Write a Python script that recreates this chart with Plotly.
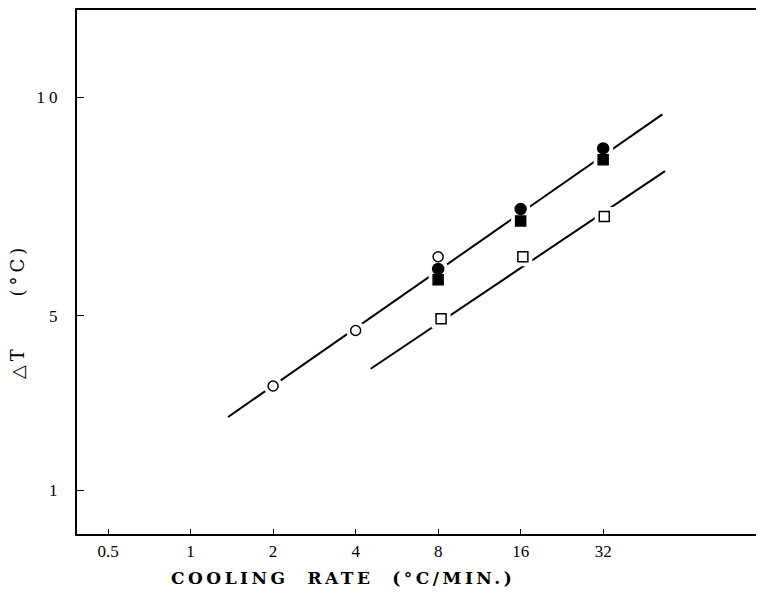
import math
import plotly.graph_objects as go

# ---- data ----
rate_open_circle = [2, 4, 8]
dT_open_circle = [3.39, 4.66, 6.35]

rate_filled_circle = [8, 16, 32]
dT_filled_circle = [6.07, 7.44, 8.83]

rate_filled_square = [8, 16, 32]
dT_filled_square = [5.82, 7.17, 8.57]

rate_open_square = [8.2, 16.3, 32.3]
dT_open_square = [4.93, 6.35, 7.27]

fit_upper_rate = [1.37, 52.6]
fit_upper_dT = [2.68, 9.61]
fit_lower_rate = [4.54, 53.8]
fit_lower_dT = [3.785, 8.31]

x_tick_vals = [0.5, 1, 2, 4, 8, 16, 32]
x_tick_text = ["0.5", "1", "2", "4", "8", "16", "32"]
y_tick_vals = [1, 5, 10]
y_tick_text = ["1", "5", "10"]

# page body adds an 8px offset; target plot box: x 77..764, y 10..534
OFF = 8
W, H = 756, 582
ML, MR, MT = 77 - OFF, 0, 10 - OFF
MB = OFF + H - 534

fig = go.Figure()

for xs, ys in [(fit_upper_rate, fit_upper_dT), (fit_lower_rate, fit_lower_dT)]:
    fig.add_trace(go.Scatter(x=xs, y=ys, mode="lines",
                             line=dict(color="black", width=2),
                             showlegend=False, hoverinfo="skip"))

series = [
    (rate_open_circle, dT_open_circle, "circle", 10, "white"),
    (rate_filled_circle, dT_filled_circle, "circle", 11, "black"),
    (rate_filled_square, dT_filled_square, "square", 10, "black"),
    (rate_open_square, dT_open_square, "square", 10, "white"),
]

for xs, ys, sym, sz, fill in series:
    fig.add_trace(go.Scatter(x=xs, y=ys, mode="markers",
                             marker=dict(symbol=sym, size=sz + 9, color="white",
                                         line=dict(width=0)),
                             showlegend=False, hoverinfo="skip"))

for xs, ys, sym, sz, fill in series:
    fig.add_trace(go.Scatter(x=xs, y=ys, mode="markers",
                             marker=dict(symbol=sym, size=sz, color=fill,
                                         line=dict(color="black", width=1.5)),
                             showlegend=False))

serif = "Liberation Serif, Times New Roman, serif"
fig.update_layout(
    width=W, height=H,
    margin=dict(l=ML, r=MR, t=MT, b=MB),
    plot_bgcolor="white", paper_bgcolor="white",
    font=dict(family=serif, size=17, color="black"),
    xaxis=dict(type="log", range=[math.log10(0.385), math.log10(123.6)],
               tickvals=x_tick_vals, ticktext=x_tick_text,
               showgrid=False, zeroline=False,
               showline=True, linecolor="black", linewidth=2, mirror=True,
               ticks="inside", ticklen=5, tickwidth=1, tickcolor="black",
               ticklabelstandoff=1,
               tickfont=dict(family=serif, size=17)),
    yaxis=dict(range=[0, 12], tickvals=y_tick_vals,
               ticktext=["<span style='letter-spacing:4px'>%s</span>" % t for t in y_tick_text],
               showgrid=False, zeroline=False,
               showline=True, linecolor="black", linewidth=2,
               ticks="inside", ticklen=7, tickwidth=1, tickcolor="black",
               ticklabelstandoff=10,
               tickfont=dict(family=serif, size=17)),
)

pw = W - ML - MR
ph = H - MT - MB


def px_x(x):
    return (x - OFF - ML) / pw


def px_y(y):
    return (OFF + H - MB - y) / ph


fig.add_annotation(text="<span style='letter-spacing:3.5px'><b>COOLING&nbsp;&nbsp;RATE&nbsp;&nbsp;(°C/MIN.)</b></span>",
                   xref="paper", yref="paper",
                   x=px_x(343), y=px_y(578),
                   xanchor="center", yanchor="middle", showarrow=False,
                   font=dict(family="DejaVu Serif, serif", size=17, color="black"))
fig.add_annotation(text="<span style='letter-spacing:4px'>△T&nbsp;&nbsp;&nbsp;&nbsp;&nbsp;(°C)</span>",
                   xref="paper", yref="paper",
                   x=px_x(17), y=px_y(312),
                   xanchor="center", yanchor="middle", showarrow=False,
                   textangle=-90,
                   font=dict(family="DejaVu Serif, serif", size=18, color="black"))

fig.write_html("out.html")
